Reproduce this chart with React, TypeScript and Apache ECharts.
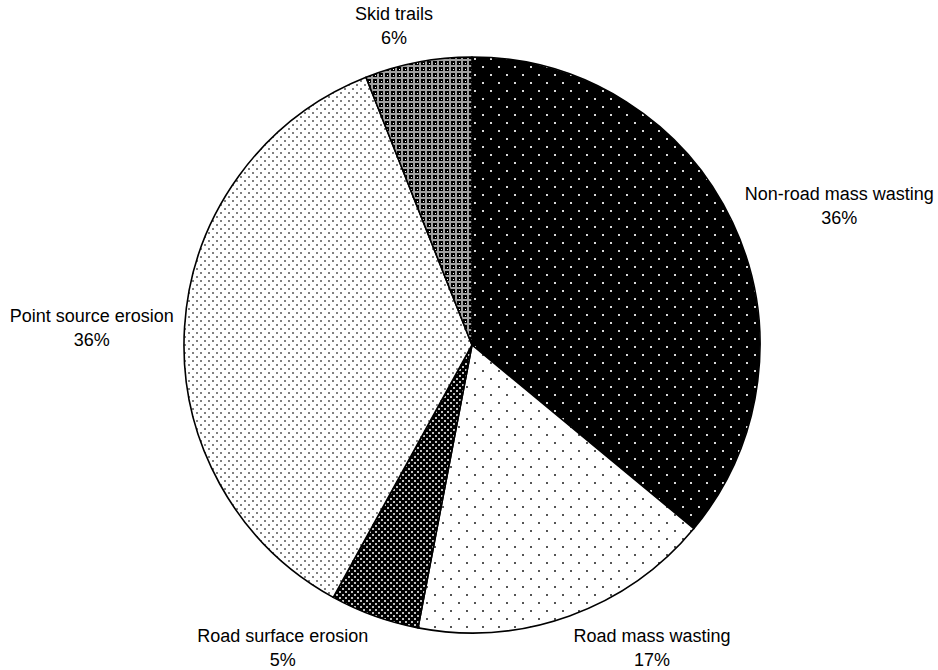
import React, { useEffect, useRef } from 'react';
import * as echarts from 'echarts';

const categories = [
  'Non-road mass wasting',
  'Road mass wasting',
  'Road surface erosion',
  'Point source erosion',
  'Skid trails',
];
const shares = [36, 17, 5, 36, 6];

// label layout: gap from the rim, plus a small per-label nudge (px)
const LABEL_GAP = 20;
const labelNudges = [
  [3, 2],
  [49, -9],
  [-56, -9],
  [9, 4],
  [-13, 7],
];

const CX = 472;
const CY = 345;
const R = 288;

type Draw = (ctx: CanvasRenderingContext2D) => void;

function tile(w: number, h: number, draw: Draw) {
  const c = document.createElement('canvas');
  c.width = w;
  c.height = h;
  const ctx = c.getContext('2d') as CanvasRenderingContext2D;
  draw(ctx);
  return { image: c, repeat: 'repeat', imageWidth: w, imageHeight: h };
}

function dotted(w: number, h: number, bg: string, fg: string, pts: number[][], s: number) {
  return tile(w, h, (ctx) => {
    ctx.fillStyle = bg;
    ctx.fillRect(0, 0, w, h);
    ctx.fillStyle = fg;
    pts.forEach(([x, y]) => ctx.fillRect(x, y, s, s));
  });
}

export default function App() {
  const ref = useRef<HTMLDivElement>(null);
  useEffect(() => {
    if (!ref.current) return;
    const chart = echarts.init(ref.current, undefined, { renderer: 'svg' });

    const patterns: any[] = [
      dotted(16, 16, '#000', '#d8d8d8', [[2, 2], [10, 10]], 2),
      dotted(16, 16, '#fff', '#555', [[2, 2], [10, 10]], 2),
      dotted(6, 6, '#000', '#c0c0c0', [[0, 0], [3, 3]], 2),
      dotted(8, 8, '#fff', '#808080', [[0, 0], [4, 4]], 2),
      tile(6, 6, (ctx) => {
        ctx.fillStyle = '#a0a0a0';
        ctx.fillRect(0, 0, 6, 6);
        ctx.fillStyle = '#000';
        ctx.fillRect(1, 1, 4, 4);
        ctx.fillStyle = '#fff';
        ctx.fillRect(3, 3, 1, 1);
      }),
    ];

    const total = shares.reduce((a, b) => a + b, 0);
    const mids: number[] = [];
    let acc = 0;
    shares.forEach((v) => {
      mids.push(((acc + v / 2) / total) * Math.PI * 2);
      acc += v;
    });

    chart.setOption({
      animation: false,
      backgroundColor: '#fff',
      series: [
        {
          type: 'pie',
          center: [CX, CY],
          radius: R,
          startAngle: 90,
          clockwise: true,
          silent: true,
          avoidLabelOverlap: false,
          data: categories.map((name, i) => ({
            name,
            value: shares[i],
            itemStyle: { color: patterns[i] },
          })),
          itemStyle: { borderColor: '#000', borderWidth: 1.6 },
          label: {
            show: true,
            position: 'outside',
            formatter: '{b}\n{c}%',
            fontFamily: '"Liberation Sans", Arial, sans-serif',
            fontSize: 18,
            lineHeight: 24,
            color: '#000',
            align: 'center',
          },
          labelLine: { show: false },
          labelLayout: (p: any) => {
            const i = p.dataIndex;
            const a = mids[i];
            const s = Math.sin(a);
            const c = Math.cos(a);
            const w = p.labelRect.width;
            const h = p.labelRect.height;
            const d = R + LABEL_GAP;
            return {
              x: CX + s * d + (s * w) / 2 + labelNudges[i][0],
              y: CY - c * d - (c * h) / 2 + labelNudges[i][1],
              align: 'center',
              verticalAlign: 'middle',
            };
          },
        },
      ],
    });
    return () => chart.dispose();
  }, []);
  return (
    <div
      ref={ref}
      style={{ position: 'fixed', left: 0, top: 0, width: 938, height: 670, background: '#fff' }}
    />
  );
}
